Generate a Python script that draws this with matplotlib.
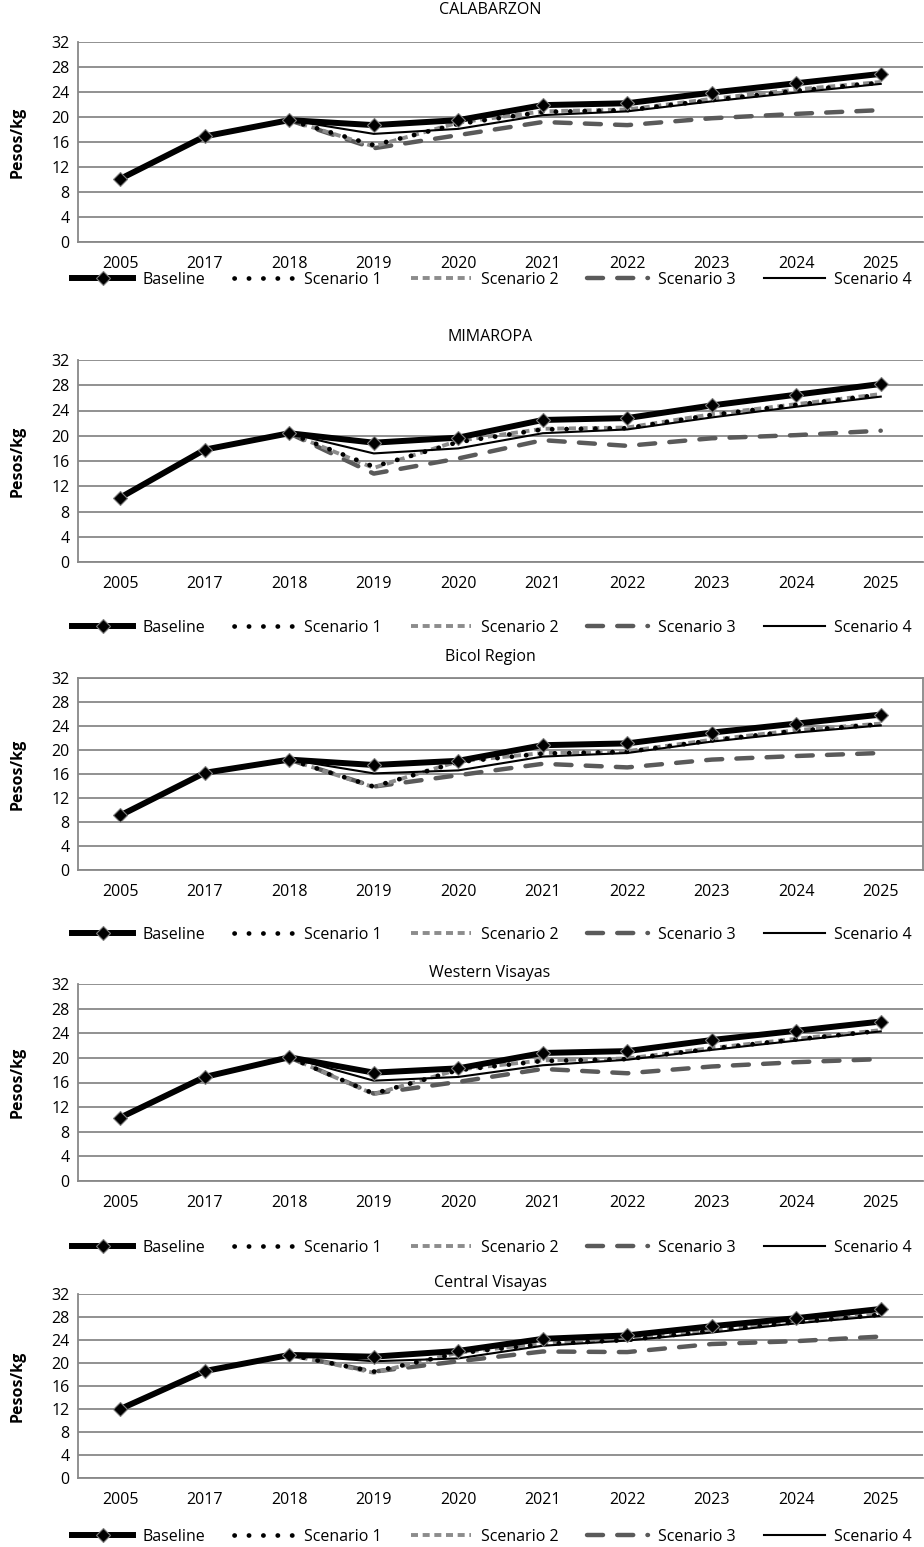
import numpy as np
import matplotlib.pyplot as plt
from matplotlib.lines import Line2D

# Data
years = ["2005", "2017", "2018", "2019", "2020", "2021", "2022", "2023", "2024", "2025"]
regions = ["CALABARZON", "MIMAROPA", "Bicol Region", "Western Visayas", "Central Visayas"]
series_names = ["Baseline", "Scenario 1", "Scenario 2", "Scenario 3", "Scenario 4"]
nan = np.nan

baseline = [
    [10.1, 16.9, 19.5, 18.7, 19.5, 21.9, 22.2, 23.9, 25.4, 26.9],
    [10.2, 17.8, 20.4, 18.9, 19.7, 22.5, 22.8, 24.8, 26.5, 28.2],
    [9.1, 16.2, 18.4, 17.5, 18.2, 20.8, 21.1, 22.9, 24.4, 25.9],
    [10.3, 16.9, 20.1, 17.6, 18.3, 20.8, 21.1, 22.9, 24.4, 25.9],
    [12.0, 18.6, 21.4, 21.1, 22.1, 24.2, 24.8, 26.4, 27.8, 29.4],
]
scenario1 = [
    [nan, nan, 19.5, 15.5, 18.9, 20.8, 21.1, 22.7, 24.2, 25.5],
    [nan, nan, 20.4, 15.1, 19.0, 21.0, 21.2, 23.3, 24.9, 26.5],
    [nan, nan, 18.4, 13.9, 18.0, 19.4, 19.7, 21.6, 23.2, 24.3],
    [nan, nan, 20.1, 14.2, 18.0, 19.5, 19.8, 21.5, 23.0, 24.4],
    [nan, nan, 21.4, 18.5, 21.7, 23.3, 24.0, 25.6, 27.1, 28.4],
]
scenario2 = [
    [nan, nan, 19.5, 15.3, 19.1, 20.9, 21.2, 22.9, 24.4, 25.6],
    [nan, nan, 20.4, 14.9, 19.2, 21.1, 21.3, 23.4, 25.0, 26.6],
    [nan, nan, 18.4, 13.8, 18.1, 19.5, 19.8, 21.7, 23.3, 24.4],
    [nan, nan, 20.1, 14.1, 18.1, 19.6, 19.9, 21.6, 23.1, 24.5],
    [nan, nan, 21.4, 18.3, 21.8, 23.4, 24.1, 25.7, 27.2, 28.5],
]
scenario3 = [
    [nan, nan, 19.5, 15.0, 17.1, 19.2, 18.7, 19.8, 20.5, 21.1],
    [nan, nan, 20.4, 14.0, 16.4, 19.3, 18.4, 19.6, 20.1, 20.8],
    [nan, nan, 18.4, 13.9, 15.8, 17.7, 17.1, 18.4, 19.0, 19.5],
    [nan, nan, 20.1, 14.2, 16.1, 18.2, 17.5, 18.6, 19.3, 19.8],
    [nan, nan, 21.4, 18.5, 20.3, 22.0, 21.9, 23.3, 23.8, 24.6],
]
scenario4 = [
    [nan, nan, 19.5, 17.3, 18.1, 20.3, 20.9, 22.5, 23.9, 25.3],
    [nan, nan, 20.4, 17.2, 18.0, 20.4, 21.0, 22.9, 24.6, 26.2],
    [nan, nan, 18.4, 16.1, 16.6, 18.9, 19.5, 21.4, 22.9, 24.1],
    [nan, nan, 20.1, 16.3, 16.9, 18.8, 19.7, 21.3, 22.8, 24.3],
    [nan, nan, 21.4, 20.3, 20.8, 23.0, 23.9, 25.3, 26.9, 28.2],
]

# Styles
styles = [
    dict(color="black", lw=4.3, ls="-", marker="D", ms=7, mfc="black", mec="#808080", mew=0.8, zorder=6),
    dict(color="black", lw=3.4, ls=(0, (0.05, 3.0)), dash_capstyle="round", zorder=4),
    dict(color="#8c8c8c", lw=2.8, ls=(0, (1.8, 1.2)), zorder=3),
    dict(color="#5a5a5a", lw=3.2, ls=(0, (3.6, 3.2)), dash_capstyle="round", zorder=2),
    dict(color="black", lw=1.5, ls="-", zorder=5),
]

# Layout in pixels (top, bottom of plot area), title y, legend y
H = 1547
W = 924
panels_px = [(42, 242, 10, 280), (360, 562, 337, 628), (678, 870, 657, 935),
             (984, 1181, 973, 1248), (1294, 1478, 1283, 1537)]

plt.rcParams["font.family"] = ["Open Sans", "DejaVu Sans"]
fig = plt.figure(figsize=(W / 100, H / 100), dpi=100)

x = np.arange(len(years))
grid_color = "#888888"
fs = 11.5

for i, region in enumerate(regions):
    top, bottom, ty, ly = panels_px[i]
    ax = fig.add_axes([78 / W, (H - bottom) / H, 845 / W, (bottom - top) / H])
    data = [baseline[i], scenario1[i], scenario2[i], scenario3[i], scenario4[i]]
    order = [3, 2, 1, 4, 0]
    for k in order:
        ax.plot(x, data[k], **styles[k])

    ax.set_xlim(-0.5, len(years) - 0.5)
    ax.set_ylim(0, 32)
    ax.set_yticks(np.arange(0, 33, 4))
    ax.set_xticks(x)
    ax.set_xticklabels(years)
    ax.tick_params(length=0, labelsize=fs)
    ax.tick_params(axis="x", pad=10)
    ax.tick_params(axis="y", pad=6)
    ax.grid(axis="y", color=grid_color, lw=1.3)
    ax.set_axisbelow(True)
    for s in ["left", "bottom"]:
        ax.spines[s].set_color(grid_color)
        ax.spines[s].set_linewidth(1.3)
    if region == "Bicol Region":
        for s in ["top", "right"]:
            ax.spines[s].set_color(grid_color)
            ax.spines[s].set_linewidth(1.3)
    else:
        ax.spines["top"].set_visible(False)
        ax.spines["right"].set_visible(False)

    ax.set_ylabel("Pesos/kg", fontweight="bold", fontsize=fs)
    ax.yaxis.set_label_coords(-0.062, 0.5)

    fig.text(490 / W, 1 - ty / H, region, ha="center", va="center", fontsize=fs)

    handles = [Line2D([], [], **{k: v for k, v in styles[j].items() if k != "zorder"}) for j in range(5)]
    fig.legend(handles, series_names, loc="center", ncol=5, frameon=False,
               bbox_to_anchor=(492 / W, 1 - ly / H), handlelength=3.8,
               fontsize=fs, handletextpad=0.6, columnspacing=1.8,
               borderaxespad=0, borderpad=0)

fig.savefig("out.png", dpi=100)
